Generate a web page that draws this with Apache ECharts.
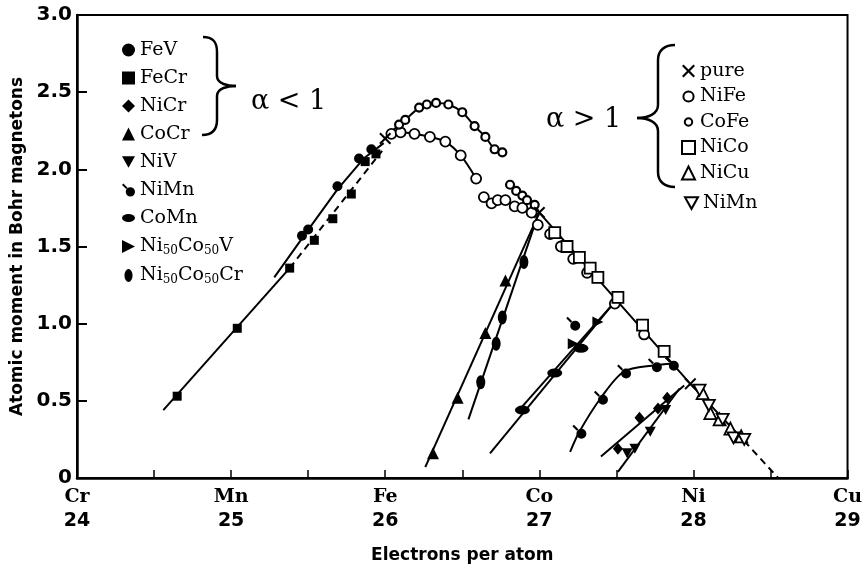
<!DOCTYPE html>
<html>
<head>
<meta charset="utf-8">
<script src="https://cdn.jsdelivr.net/npm/echarts@6/dist/echarts.min.js"></script>
<style>
  html, body { margin: 0; padding: 0; background: #fff; }
  #chart { width: 865px; height: 574px; }
</style>
</head>
<body>
<div id="chart"></div>
<script>
// axis labels
const elementNames = { 24: 'Cr', 25: 'Mn', 26: 'Fe', 27: 'Co', 28: 'Ni', 29: 'Cu' };

// marker data [electrons per atom, moment]
const pure = [[26.0, 2.2], [27.0, 1.72], [27.98, 0.61]];
const feV = [[25.46, 1.57], [25.50, 1.61], [25.69, 1.89], [25.83, 2.07], [25.91, 2.13]];
const feCr = [[24.65, 0.53], [25.04, 0.97], [25.38, 1.36], [25.54, 1.54], [25.66, 1.68], [25.78, 1.84], [25.87, 2.05], [25.94, 2.10]];
const niCr = [[27.51, 0.19], [27.65, 0.39], [27.77, 0.45], [27.83, 0.52]];
const coCr = [[26.31, 0.16], [26.47, 0.52], [26.65, 0.94], [26.78, 1.28]];
const niV = [[27.57, 0.16], [27.62, 0.19], [27.72, 0.30], [27.82, 0.44]];
const niMnFilled = [[27.26, 0.30], [27.40, 0.52], [27.55, 0.69], [27.75, 0.73], [27.86, 0.74], [27.22, 1.00]];
const coMn = [[26.89, 0.44], [27.10, 0.68], [27.27, 0.84]];
const niCoV = [[27.22, 0.87], [27.38, 1.01]];
const niCoCr = [[26.62, 0.62], [26.72, 0.87], [26.76, 1.04], [26.90, 1.40]];
const niFe = [[26.04, 2.23], [26.10, 2.24], [26.19, 2.23], [26.29, 2.21], [26.39, 2.18], [26.49, 2.09], [26.59, 1.94],
  [26.64, 1.82], [26.69, 1.78], [26.73, 1.80], [26.78, 1.80], [26.84, 1.76], [26.89, 1.75], [26.95, 1.72], [26.99, 1.64],
  [27.07, 1.58], [27.14, 1.50], [27.22, 1.42], [27.31, 1.33], [27.49, 1.13], [27.68, 0.93]];
const coFe = [[26.09, 2.29], [26.13, 2.32], [26.22, 2.40], [26.27, 2.42], [26.33, 2.43], [26.41, 2.42], [26.50, 2.37], [26.58, 2.28], [26.65, 2.21], [26.71, 2.13], [26.76, 2.11],
  [26.81, 1.90], [26.85, 1.86], [26.89, 1.83], [26.92, 1.80], [26.97, 1.77]];
const niCo = [[27.10, 1.59], [27.18, 1.50], [27.26, 1.43], [27.33, 1.36], [27.38, 1.30], [27.51, 1.17], [27.67, 0.99], [27.81, 0.82]];
const niCu = [[28.06, 0.55], [28.11, 0.42], [28.17, 0.38], [28.24, 0.32], [28.31, 0.27]];
const niMnOpen = [[28.04, 0.57], [28.10, 0.47], [28.19, 0.38], [28.26, 0.26], [28.33, 0.25]];

// drawn lines through the points
const feCrLineLow = [[24.56, 0.44], [25.38, 1.36]];
const feCrLineHigh = [[25.38, 1.36], [25.98, 2.12]];
const feVLine = [[25.28, 1.30], [25.48, 1.58], [25.69, 1.87], [25.86, 2.07], [25.99, 2.17]];
const niFeLineA = [[26.0, 2.2], [26.04, 2.23], [26.10, 2.24], [26.19, 2.23], [26.29, 2.21], [26.39, 2.18], [26.49, 2.09], [26.59, 1.94]];
const niFeLineB = [[26.64, 1.82], [26.69, 1.78], [26.73, 1.80], [26.78, 1.80], [26.84, 1.76], [26.89, 1.75], [26.95, 1.72], [27.0, 1.70]];
const coFeLineA = [[26.0, 2.2], [26.09, 2.29], [26.13, 2.32], [26.22, 2.40], [26.27, 2.42], [26.33, 2.43], [26.41, 2.42], [26.50, 2.37], [26.58, 2.28], [26.65, 2.21], [26.71, 2.13], [26.76, 2.11]];
const coFeLineB = [[26.81, 1.90], [26.85, 1.86], [26.89, 1.83], [26.92, 1.80], [26.97, 1.77], [27.0, 1.72]];
const mainLine = [[27.0, 1.72], [27.98, 0.61], [28.33, 0.24]];
const mainLineTail = [[28.33, 0.24], [28.55, 0]];
const coCrLine = [[26.26, 0.07], [27.0, 1.72]];
const niCoCrLine = [[26.54, 0.38], [26.99, 1.70]];
const coMnLine = [[26.68, 0.16], [27.48, 1.13]];
const niCoVLine = [[26.86, 0.43], [27.48, 1.13]];
const niMnLine = [[27.20, 0.17], [27.26, 0.30], [27.40, 0.52], [27.55, 0.69], [27.75, 0.73], [27.86, 0.74]];
const niCrLine = [[27.40, 0.14], [27.94, 0.60]];
const niVLine = [[27.51, 0.04], [27.91, 0.58]];

const SERIF = 'DejaVu Serif';
const tailCircle = 'path://M0,1.5 L1.5,0 L6,4.5 L4.5,6 Z M4,9 A5,5 0 1,1 14,9 A5,5 0 1,1 4,9 Z';
const crossPath = 'path://M0,1.2 L1.2,0 L5,3.8 L8.8,0 L10,1.2 L6.2,5 L10,8.8 L8.8,10 L5,6.2 L1.2,10 L0,8.8 L3.8,5 Z';
const downTri = 'path://M0,0 L10,0 L5,9 Z';
const rightTri = 'path://M0,0 L10,5 L0,10 Z';
const hEllipse = 'path://M0,5 A8,5 0 1,1 16,5 A8,5 0 1,1 0,5 Z';
const vEllipse = 'path://M5,0 A5,8 0 1,1 5,16 A5,8 0 1,1 5,0 Z';
// smaller legend icons: the extra moveTo points widen the box the icon is fitted in
const smallCircle = 'path://M0,0 M14,14 M3,7 A4,4 0 1,1 11,7 A4,4 0 1,1 3,7 Z';
const midCircle = 'path://M0,0 M14,14 M1.5,7 A5.5,5.5 0 1,1 12.5,7 A5.5,5.5 0 1,1 1.5,7 Z';

function curve(data, dashed, smooth) {
  return {
    type: 'line', data: data, showSymbol: false, silent: true, smooth: smooth ? 0.3 : false,
    lineStyle: { color: '#000', width: 2, type: dashed ? [7, 5] : 'solid' }, z: 2
  };
}
function marks(name, data, symbol, size, open, border) {
  return {
    name: name, type: 'scatter', data: data, symbol: symbol, symbolSize: size, z: 3,
    itemStyle: open ? { color: '#fff', borderColor: '#000', borderWidth: border || 1.8, opacity: 1 } : { color: '#000', opacity: 1 }
  };
}

const legendText = {
  fontFamily: SERIF, fontSize: 19, color: '#000', lineHeight: 20,
  rich: {
    a: { fontFamily: SERIF, fontSize: 19, lineHeight: 20, color: '#000' },
    s: { fontFamily: SERIF, fontSize: 12, lineHeight: 20, color: '#000', padding: [9, 0, 0, 0] }
  }
};
function legendFmt(name) {
  if (name === 'Ni50Co50V') return '{a|Ni}{s|50}{a|Co}{s|50}{a|V}';
  if (name === 'Ni50Co50Cr') return '{a|Ni}{s|50}{a|Co}{s|50}{a|Cr}';
  return '{a|' + name.trim() + '}';
}

const chart = echarts.init(document.getElementById('chart'), null, { renderer: 'canvas' });
chart.setOption({
  animation: false,
  backgroundColor: '#fff',
  grid: { left: 77, right: 14, top: 15, bottom: 96, show: true, borderColor: '#000', borderWidth: 2 },
  xAxis: {
    type: 'value', min: 24, max: 29, interval: 0.5,
    name: 'Electrons per atom', nameLocation: 'middle', nameGap: 69,
    nameTextStyle: { fontFamily: 'DejaVu Sans', fontWeight: 'bold', fontSize: 17, color: '#000' },
    axisLine: { lineStyle: { color: '#000', width: 2.5 } },
    axisTick: { inside: true, length: 8, lineStyle: { color: '#000', width: 1.5 } },
    splitLine: { show: false },
    axisLabel: {
      margin: 7, color: '#000',
      formatter: function (v) {
        if (Math.abs(v - Math.round(v)) > 1e-6) return '';
        return '{el|' + elementNames[Math.round(v)] + '}\n{num|' + Math.round(v) + '}';
      },
      rich: {
        el: { fontFamily: SERIF, fontWeight: 'bold', fontSize: 19, lineHeight: 24, color: '#000' },
        num: { fontFamily: 'DejaVu Sans', fontWeight: 'bold', fontSize: 19, lineHeight: 24, color: '#000' }
      }
    }
  },
  yAxis: {
    type: 'value', min: 0, max: 3, interval: 0.5,
    name: 'Atomic moment in Bohr magnetons', nameLocation: 'middle', nameGap: 50, nameRotate: 90,
    nameTextStyle: { fontFamily: 'DejaVu Sans', fontWeight: 'bold', fontSize: 17, color: '#000' },
    axisLine: { lineStyle: { color: '#000', width: 2.5 } },
    axisTick: { inside: true, length: 10, lineStyle: { color: '#000', width: 2 } },
    splitLine: { show: false },
    axisLabel: {
      margin: 5, color: '#000', fontFamily: 'DejaVu Sans', fontWeight: 'bold', fontSize: 20,
      formatter: function (v) { return v === 0 ? '0' : v.toFixed(1); }
    }
  },
  legend: [
    {
      orient: 'vertical', left: 117, top: 35, itemWidth: 13, itemHeight: 13, itemGap: 8,
      selectedMode: false, textStyle: legendText, formatter: legendFmt,
      data: [
        { name: 'FeV', icon: 'circle' }, { name: 'FeCr', icon: 'rect' }, { name: 'NiCr', icon: 'diamond' },
        { name: 'CoCr', icon: 'triangle' }, { name: 'NiV', icon: downTri }, { name: 'NiMn', icon: tailCircle },
        { name: 'CoMn', icon: hEllipse }, { name: 'Ni50Co50V', icon: rightTri }, { name: 'Ni50Co50Cr', icon: vEllipse }
      ]
    },
    {
      orient: 'vertical', left: 676, top: 56, itemWidth: 13, itemHeight: 13, itemGap: 5.5,
      selectedMode: false, textStyle: legendText, formatter: legendFmt,
      data: [
        { name: 'pure', icon: crossPath }, { name: 'NiFe', icon: midCircle }, { name: 'CoFe', icon: smallCircle },
        { name: 'NiCo', icon: 'rect' }, { name: 'NiCu', icon: 'triangle' }
      ]
    },
    {
      orient: 'vertical', left: 679, top: 188, itemWidth: 13, itemHeight: 13,
      selectedMode: false, textStyle: legendText, formatter: legendFmt,
      data: [{ name: 'NiMn ', icon: downTri }]
    }
  ],
  graphic: [
    // left brace
    { type: 'group', silent: true, children: [
      { type: 'bezierCurve', shape: { x1: 203, y1: 37, cpx1: 213, cpy1: 37, cpx2: 217, cpy2: 42, x2: 217, y2: 52 }, style: { stroke: '#000', lineWidth: 2.5, fill: null } },
      { type: 'line', shape: { x1: 217, y1: 52, x2: 217, y2: 76 }, style: { stroke: '#000', lineWidth: 2.5 } },
      { type: 'bezierCurve', shape: { x1: 217, y1: 76, cpx1: 217, cpy1: 84, cpx2: 228, cpy2: 86, x2: 236, y2: 86 }, style: { stroke: '#000', lineWidth: 2.5, fill: null } },
      { type: 'bezierCurve', shape: { x1: 236, y1: 86, cpx1: 228, cpy1: 86, cpx2: 217, cpy2: 88, x2: 217, y2: 96 }, style: { stroke: '#000', lineWidth: 2.5, fill: null } },
      { type: 'line', shape: { x1: 217, y1: 96, x2: 217, y2: 120 }, style: { stroke: '#000', lineWidth: 2.5 } },
      { type: 'bezierCurve', shape: { x1: 217, y1: 120, cpx1: 217, cpy1: 130, cpx2: 212, cpy2: 135, x2: 202, y2: 135 }, style: { stroke: '#000', lineWidth: 2.5, fill: null } }
    ]},
    // right brace
    { type: 'group', silent: true, children: [
      { type: 'bezierCurve', shape: { x1: 675, y1: 45, cpx1: 665, cpy1: 45, cpx2: 658, cpy2: 50, x2: 658, y2: 60 }, style: { stroke: '#000', lineWidth: 2.5, fill: null } },
      { type: 'line', shape: { x1: 658, y1: 60, x2: 658, y2: 105 }, style: { stroke: '#000', lineWidth: 2.5 } },
      { type: 'bezierCurve', shape: { x1: 658, y1: 105, cpx1: 658, cpy1: 114, cpx2: 648, cpy2: 118, x2: 637, y2: 118 }, style: { stroke: '#000', lineWidth: 2.5, fill: null } },
      { type: 'bezierCurve', shape: { x1: 637, y1: 118, cpx1: 648, cpy1: 118, cpx2: 658, cpy2: 122, x2: 658, y2: 131 }, style: { stroke: '#000', lineWidth: 2.5, fill: null } },
      { type: 'line', shape: { x1: 658, y1: 131, x2: 658, y2: 172 }, style: { stroke: '#000', lineWidth: 2.5 } },
      { type: 'bezierCurve', shape: { x1: 658, y1: 172, cpx1: 658, cpy1: 182, cpx2: 665, cpy2: 187, x2: 675, y2: 187 }, style: { stroke: '#000', lineWidth: 2.5, fill: null } }
    ]},
    { type: 'text', left: 251, top: 88, style: { text: 'α < 1', fontFamily: SERIF, fontSize: 27, fill: '#000' } },
    { type: 'text', left: 546, top: 106, style: { text: 'α > 1', fontFamily: SERIF, fontSize: 27, fill: '#000' } }
  ],
  series: [
    curve(feCrLineLow), curve(feCrLineHigh, true), curve(feVLine),
    curve(niFeLineA, false, true), curve(niFeLineB, false, true),
    curve(coFeLineA, false, true), curve(coFeLineB),
    curve(mainLine), curve(mainLineTail, true),
    curve(coCrLine), curve(niCoCrLine), curve(coMnLine), curve(niCoVLine),
    curve(niMnLine, false, true), curve(niCrLine), curve(niVLine),

    marks('FeV', feV, 'circle', 10),
    marks('FeCr', feCr, 'rect', 9),
    marks('NiCr', niCr, 'diamond', [10, 12]),
    marks('CoCr', coCr, 'triangle', 12),
    marks('NiV', niV, downTri, [11, 10]),
    marks('NiMn', niMnFilled, tailCircle, [14, 14]),
    marks('CoMn', coMn, hEllipse, [15, 9]),
    marks('Ni50Co50V', niCoV, rightTri, [11, 11]),
    marks('Ni50Co50Cr', niCoCr, vEllipse, [9, 14]),
    marks('NiFe', niFe, 'circle', 10, true),
    marks('CoFe', coFe, 'circle', 8, true, 2.2),
    marks('NiCo', niCo, 'rect', 11, true),
    marks('NiCu', niCu, 'triangle', 12, true),
    marks('NiMn ', niMnOpen, downTri, [12, 11], true),
    marks('pure', pure, crossPath, 12)
  ]
});
</script>
</body>
</html>
